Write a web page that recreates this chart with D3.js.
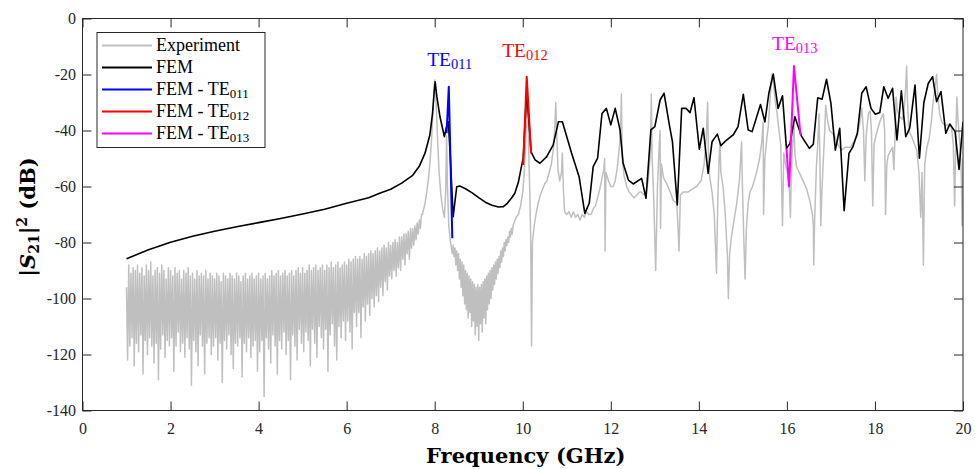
<!DOCTYPE html>
<html><head><meta charset="utf-8">
<script src="https://cdn.jsdelivr.net/npm/d3@7"></script>
<style>
html,body{margin:0;padding:0;background:#fff;}
svg{display:block;}
</style></head>
<body><svg id="chart" width="975" height="469"></svg>
<script>
// ---------------- DATA ----------------
const xTicks = [0,2,4,6,8,10,12,14,16,18,20];
const yTicks = [0,-20,-40,-60,-80,-100,-120,-140];

// Experiment, dense noisy part: uniform sampling 1.000 -> 7.700 GHz, step 0.025 GHz
const expNoiseStart = 1.0, expNoiseStep = 0.025;
const expNoiseDb = [
-96,-122,-88,-117,-91,-114,-89,-124,-90,-116,
-88,-119,-91,-113,-89,-127,-92,-115,-88,-120,
-90,-114,-87,-117,-92,-123,-90,-116,-89,-129,
-91,-118,-88,-113,-90,-121,-93,-115,-89,-117,
-90,-114,-92,-126,-89,-117,-91,-112,-90,-119,
-93,-116,-90,-121,-91,-114,-89,-118,-92,-131,
-91,-115,-93,-119,-90,-124,-92,-113,-91,-117,
-92,-127,-90,-116,-93,-114,-91,-120,-92,-117,
-93,-114,-91,-122,-92,-116,-94,-130,-91,-115,
-92,-118,-93,-113,-91,-120,-92,-125,-93,-116,
-91,-117,-92,-114,-94,-128,-92,-116,-91,-119,
-93,-114,-92,-121,-91,-117,-93,-115,-92,-126,
-91,-119,-93,-115,-92,-135,-91,-114,-93,-118,
-92,-123,-90,-113,-92,-117,-91,-127,-90,-115,
-92,-118,-91,-112,-90,-120,-92,-115,-91,-129,
-90,-113,-92,-117,-90,-122,-89,-111,-91,-116,
-89,-119,-91,-112,-90,-115,-88,-124,-90,-111,
-89,-116,-88,-121,-90,-110,-89,-114,-88,-118,
-90,-111,-88,-126,-89,-113,-87,-109,-89,-117,
-88,-122,-87,-110,-89,-114,-88,-108,-87,-115,
-88,-108,-86,-112,-87,-118,-86,-105,-85,-110,
-86,-105,-85,-114,-86,-103,-84,-108,-85,-102,
-84,-106,-83,-100,-84,-103,-83,-99,-82,-101,
-83,-96,-82,-99,-81,-94,-82,-97,-80,-92,
-81,-93,-80,-90,-79,-92,-80,-89,-78,-90,
-78,-86,-77,-88,-77,-84,-76,-86,-75,-82,
-75,-81,-74,-79,-73,-77,-72,-75,-70
];
// Experiment, resonant part (explicit samples)
const expFreq = [7.72,7.78,7.82,7.86,7.90,7.93,7.96,7.98,8.00,8.02,8.04,8.07,8.10,8.14,8.18,8.22,8.25,8.27,8.29,8.32,8.36,8.40,
8.42,8.44,8.46,8.48,8.50,8.52,8.54,8.56,8.58,8.60,8.62,8.64,8.66,8.68,8.70,8.72,8.74,8.76,8.78,8.80,8.82,8.84,8.86,8.88,8.90,8.92,8.94,8.96,8.98,
9.00,9.02,9.04,9.06,9.08,9.10,9.12,9.14,9.16,9.18,9.20,9.22,9.24,9.26,9.28,9.30,9.32,9.34,9.36,9.38,9.40,9.42,9.44,9.46,9.48,9.50,9.52,9.54,9.56,9.58,9.60,9.62,9.64,9.66,9.68,9.70,9.72,9.74,9.76,9.78,9.80,9.85,9.90,9.95,
10.00,10.03,10.06,10.08,10.10,10.12,10.14,10.16,10.18,10.20,10.22,10.26,10.30,10.35,10.40,10.45,10.50,10.55,10.60,10.65,10.70,10.73,10.75,10.77,10.80,10.84,10.88,10.90,10.92,10.95,
11.00,11.05,11.10,11.15,11.20,11.25,11.30,11.35,11.40,11.45,11.50,11.55,11.60,11.65,11.70,11.75,11.80,11.84,11.86,11.87,11.89,11.95,
12.00,12.05,12.10,12.15,12.20,12.23,12.24,12.26,12.30,12.36,12.42,12.47,12.53,12.59,12.65,12.70,12.75,12.80,12.85,12.90,12.92,12.94,12.97,
13.02,13.06,13.10,13.12,13.13,13.15,13.20,13.27,13.35,13.42,13.50,13.55,13.58,13.65,13.75,13.84,13.95,
14.05,14.12,14.17,14.20,14.22,14.25,14.30,14.35,14.40,14.43,14.46,14.48,14.50,14.55,14.60,14.65,14.67,14.70,14.74,14.80,14.86,14.92,14.95,14.97,14.99,
15.02,15.05,15.08,15.12,15.16,15.22,15.31,15.38,15.43,15.46,15.47,15.50,15.55,15.58,15.62,15.66,15.70,15.74,15.77,15.82,15.86,15.90,15.93,15.97,
16.02,16.06,16.08,16.10,16.13,16.16,16.18,16.22,16.28,16.37,16.45,16.52,16.58,16.60,16.61,16.63,16.67,16.70,16.73,16.75,16.77,16.80,16.82,16.86,16.88,16.92,16.97,
17.03,17.09,17.16,17.24,17.32,17.44,17.52,17.59,17.65,17.70,17.74,17.77,17.80,17.85,17.89,17.92,17.95,17.98,
18.02,18.07,18.13,18.19,18.22,18.24,18.27,18.30,18.36,18.40,18.43,18.46,18.48,18.51,18.56,18.62,18.66,18.70,18.72,18.74,18.77,18.83,18.90,18.95,
19.00,19.04,19.07,19.10,19.13,19.18,19.23,19.28,19.32,19.36,19.40,19.43,19.47,19.52,19.58,19.65,19.70,19.74,19.78,19.81,19.84,19.86,19.89,19.93,19.96,19.98,20.00];
const expDb = [-70,-66,-62,-57,-50,-43,-33,-26,-22,-25,-33,-45,-55,-63,-68,-71,-62,-42,-60,-74,-80,-84,
-81,-85,-82,-88,-83,-90,-84,-93,-86,-96,-87,-99,-88,-102,-90,-104,-91,-107,-92,-105,-93,-110,-94,-108,-95,-113,-96,-110,-95,
-115,-96,-109,-95,-112,-94,-107,-93,-109,-92,-104,-91,-102,-90,-100,-89,-97,-88,-95,-87,-93,-86,-91,-85,-89,-83,-87,-82,-85,-80,-83,-79,-81,-78,-80,-76,-78,-75,-77,-74,-73,-71,-70,-67,
-62,-56,-46,-38,-27,-36,-50,-62,-78,-117,-80,-74,-70,-66,-63,-61,-59,-58,-55,-52,-46,-38,-30,-40,-54,-58,-55,-48,-60,-69,
-70,-69,-71,-69,-71,-70,-72,-70,-71,-69,-70,-70,-68,-67,-64,-61,-57,-54,-50,-83,-55,-58,
-60,-60,-58,-53,-45,-35,-27,-50,-56,-60,-62,-63,-64,-63,-62,-62,-63,-62,-58,-48,-27,-50,-62,
-90,-60,-45,-40,-75,-52,-57,-59,-62,-65,-66,-83,-63,-62,-62,-61,-60,
-58,-52,-42,-30,-50,-57,-62,-70,-91,-65,-50,-44,-55,-60,-70,-85,-100,-84,-78,-72,-66,-58,-50,-44,-60,
-78,-93,-75,-66,-62,-60,-55,-50,-44,-37,-70,-50,-42,-38,-28,-20,-24,-30,-33,-40,-45,-74,-48,-52,
-56,-62,-71,-55,-45,-38,-48,-53,-55,-58,-61,-65,-70,-74,-88,-72,-53,-45,-34,-50,-74,-60,-53,-40,-31,-36,-40,
-41,-42,-45,-47,-46,-46,-44,-42,-38,-32,-40,-58,-42,-34,-33,-40,-67,-45,
-42,-39,-36,-34,-40,-70,-52,-49,-47,-46,-54,-40,-28,-33,-35,-36,-33,-24,-17,-30,-40,-42,-45,-47,
-55,-71,-55,-88,-52,-46,-43,-37,-30,-25,-20,-28,-34,-37,-38,-38,-38,-39,-45,-67,-40,-28,-37,-45,-55,-74,-50];

// FEM simulation
const femFreq = [1.0,1.5,2.0,2.5,3.0,3.5,4.0,4.5,5.0,5.5,6.0,6.5,6.75,7.0,7.25,7.5,7.65,7.78,7.89,7.95,7.99,8.01,8.05,8.12,8.22,8.27,8.31,8.35,8.42,8.50,8.57,8.70,8.85,9.00,9.15,9.30,9.45,9.56,9.65,9.75,9.82,9.90,9.97,10.01,10.09,10.19,10.28,10.39,10.54,10.69,10.81,10.90,11.11,11.28,11.41,11.51,11.60,11.70,11.80,11.90,12.00,12.10,12.21,12.28,12.40,12.51,12.70,12.80,12.91,13.00,13.12,13.21,13.33,13.40,13.51,13.61,13.71,13.80,13.89,14.01,14.10,14.21,14.30,14.42,14.50,14.63,14.78,14.89,15.01,15.12,15.21,15.40,15.50,15.59,15.69,15.80,15.90,15.99,16.07,16.18,16.33,16.51,16.60,16.70,16.80,16.90,17.00,17.10,17.20,17.30,17.41,17.50,17.60,17.70,17.80,17.91,18.01,18.11,18.20,18.30,18.40,18.50,18.60,18.70,18.79,18.91,19.01,19.11,19.21,19.31,19.40,19.50,19.61,19.70,19.82,19.91,20.00];
const femDb = [-85.8,-82.6,-79.9,-77.8,-76.0,-74.4,-72.9,-71.4,-69.8,-68.1,-66.0,-64.0,-62.4,-61.0,-58.8,-56.0,-52.8,-48.1,-41.6,-34,-26,-22.6,-28,-35.1,-42.2,-38.5,-36.9,-48,-70.8,-60.1,-59.8,-60.8,-62.3,-64.0,-65.6,-66.7,-67.3,-67.2,-66,-64,-62.4,-58.5,-52.9,-50,-26,-47.6,-50.5,-51.7,-49.4,-45.2,-36.9,-36.9,-48.1,-56.5,-69.6,-66,-52.9,-49.9,-33.9,-32.1,-38,-32.1,-39.8,-51.7,-57.7,-59.1,-57.1,-64.2,-39.8,-38.6,-29.1,-26.7,-38,-44,-66.6,-32.1,-32.1,-33.6,-28.3,-46.7,-39.2,-55.3,-44,-41.3,-45.4,-43.4,-41.6,-38.6,-27.1,-39.8,-40.4,-30.7,-36.9,-26.7,-19.8,-32.1,-27.6,-46.4,-44.6,-35.1,-42,-46.4,-44.9,-28.3,-28.8,-21.7,-30.3,-47,-39.2,-68.6,-48.2,-45.8,-41,-26.7,-24.4,-32.1,-34.2,-33.6,-24.4,-28.5,-24.9,-43.4,-25.8,-42.2,-39.2,-23.8,-49.9,-30.1,-23.2,-20.8,-29.7,-26.1,-41,-37.7,-40.4,-53.9,-36.9];

// FEM mode segments
const te011Freq = [8.27,8.32,8.40];
const te011Db   = [-41,-24.4,-78.5];
const te012Freq = [10.01,10.09,10.19];
const te012Db   = [-52.3,-20.8,-48.2];
const te013Freq = [15.99,16.05,16.16,16.31];
const te013Db   = [-46.4,-60,-17,-41.6];

// mode annotation labels (anchor in data units)
const modeLabels = [
  {name:"011", f:8.34,  db:-17.0, color:"#0000ff"},
  {name:"012", f:10.05, db:-13.6, color:"#ff0000"},
  {name:"013", f:16.18, db:-11.1, color:"#ff00ff"}
];
const legendItems = [
  {label:"Experiment", sub:null,  color:"#bfbfbf"},
  {label:"FEM",        sub:null,  color:"#000000"},
  {label:"FEM - TE",   sub:"011", color:"#0000ff"},
  {label:"FEM - TE",   sub:"012", color:"#ff0000"},
  {label:"FEM - TE",   sub:"013", color:"#ff00ff"}
];

// ---------------- DRAW ----------------
const FONT = "Liberation Serif, DejaVu Serif, serif";
const BFONT = "DejaVu Serif, Liberation Serif, serif";
const svg = d3.select("#chart").attr("font-family", FONT);
const L = 82.5, R = 963, T = 18.5, B = 410.5;
const x = d3.scaleLinear().domain([0,20]).range([L,R]);
const y = d3.scaleLinear().domain([-140,0]).range([B,T]);

svg.append("defs").append("clipPath").attr("id","clip")
  .append("rect").attr("x",L).attr("y",T).attr("width",R-L).attr("height",B-T);

const expPts = expNoiseDb.map((v,i)=>[expNoiseStart + i*expNoiseStep, v])
  .concat(expFreq.map((f,i)=>[f, expDb[i]]));
const line = d3.line().x(d=>x(d[0])).y(d=>y(d[1]));
const plot = svg.append("g").attr("clip-path","url(#clip)");

plot.append("path").attr("d", line(expPts)).attr("fill","none")
  .attr("stroke","#bfbfbf").attr("stroke-width",1.5).attr("stroke-linejoin","round");
plot.append("path").attr("d", line(femFreq.map((f,i)=>[f,femDb[i]]))).attr("fill","none")
  .attr("stroke","#000").attr("stroke-width",1.6).attr("stroke-linejoin","round");
[[te011Freq,te011Db,"#0000ff"],[te012Freq,te012Db,"#ff0000"],[te013Freq,te013Db,"#ff00ff"]].forEach(([fs,ds,c])=>{
  plot.append("path").attr("d", line(fs.map((f,i)=>[f,ds[i]]))).attr("fill","none")
    .attr("stroke",c).attr("stroke-width",2).attr("stroke-linejoin","round");
});

// axes
const axCol = "#262626";
function styleAxis(g){
  g.attr("font-family", FONT).attr("font-size",16);
  g.select(".domain").remove();
  g.selectAll(".tick line").attr("stroke",axCol).attr("stroke-width",1);
  g.selectAll(".tick text").attr("fill","#262626").attr("font-size",16).attr("font-family",FONT);
}
svg.append("g").attr("transform",`translate(0,${B})`)
  .call(d3.axisBottom(x).tickValues(xTicks).tickSizeInner(-9).tickSizeOuter(0).tickPadding(12).tickFormat(d3.format("d")))
  .call(styleAxis);
svg.append("g").attr("transform",`translate(0,${T})`)
  .call(d3.axisTop(x).tickValues(xTicks).tickSizeInner(-9).tickSizeOuter(0).tickFormat(""))
  .call(styleAxis);
svg.append("g").attr("transform",`translate(${L},0)`)
  .call(d3.axisLeft(y).tickValues(yTicks).tickSizeInner(-9).tickSizeOuter(0).tickPadding(6.5).tickFormat(d=>String(d)))
  .call(styleAxis);
svg.append("g").attr("transform",`translate(${R},0)`)
  .call(d3.axisRight(y).tickValues(yTicks).tickSizeInner(-9).tickSizeOuter(0).tickFormat(""))
  .call(styleAxis);
svg.append("rect").attr("x",L).attr("y",T).attr("width",R-L).attr("height",B-T)
  .attr("fill","none").attr("stroke",axCol).attr("stroke-width",1);

// axis titles
svg.append("text").attr("x",(L+R)/2 + 3).attr("y",463).attr("text-anchor","middle").attr("font-family",BFONT)
  .attr("font-size",21).attr("font-weight","bold").attr("fill","#000").text("Frequency (GHz)");
const yt = svg.append("text").attr("transform",`translate(35,217) rotate(-90)`).attr("font-family",BFONT)
  .attr("text-anchor","middle").attr("font-size",21).attr("font-weight","bold").attr("fill","#000");
yt.append("tspan").text("|");
yt.append("tspan").attr("font-style","italic").text("S");
yt.append("tspan").attr("font-size",14).attr("dy",4).text("21");
yt.append("tspan").attr("dy",-4).text("|");
yt.append("tspan").attr("font-size",14).attr("dy",-8).text("2");
yt.append("tspan").attr("dy",8).text(" (dB)");

// mode labels
modeLabels.forEach(m=>{
  const t = svg.append("text").attr("x",x(m.f)).attr("y",y(m.db)).attr("text-anchor","middle").attr("font-family",FONT)
    .attr("font-size",19.5).attr("fill",m.color);
  t.append("tspan").text("TE");
  t.append("tspan").attr("font-size",14.5).attr("dy",3).text(m.name);
});

// legend
const lg = svg.append("g").attr("font-family",FONT);
lg.append("rect").attr("x",97).attr("y",32.5).attr("width",168).attr("height",115)
  .attr("fill","#fff").attr("stroke",axCol).attr("stroke-width",1);
legendItems.forEach((it,i)=>{
  const yy = 45.5 + i*22;
  lg.append("line").attr("x1",102).attr("x2",152).attr("y1",yy).attr("y2",yy)
    .attr("stroke",it.color).attr("stroke-width",1.8);
  const t = lg.append("text").attr("x",156).attr("y",yy+5.5).attr("font-size",18).attr("fill","#000").attr("font-family",FONT);
  t.append("tspan").text(it.label);
  if(it.sub) t.append("tspan").attr("font-size",13).attr("dy",3).text(it.sub);
});
</script></body></html>
